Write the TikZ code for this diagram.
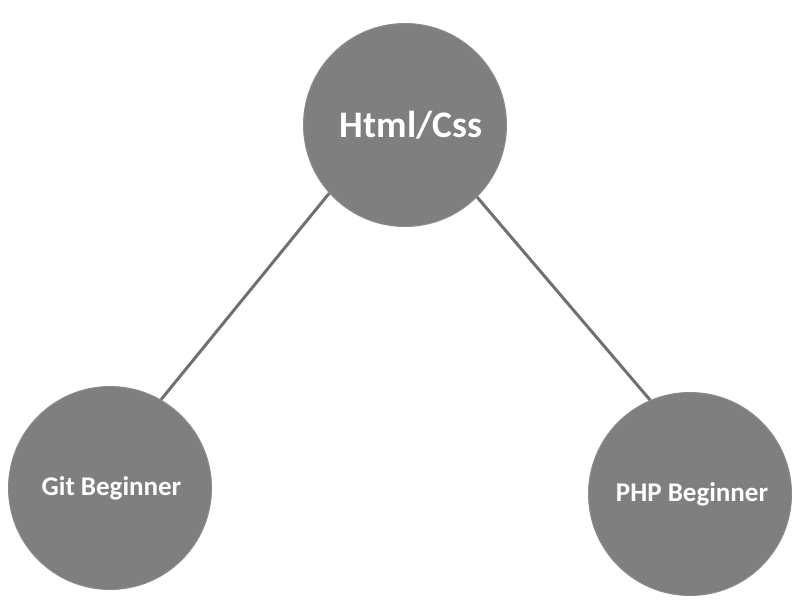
\documentclass[tikz,border=0pt]{standalone}
\usepackage{fontspec}
\setmainfont{Carlito}
\definecolor{ballfill}{HTML}{7F7F7F}
\definecolor{balledge}{HTML}{8C8C8C}
\definecolor{linkgray}{HTML}{707070}
\tikzset{
    skill/.style={circle, draw=balledge, line width=1pt, fill=ballfill, minimum size=203pt, inner sep=0pt, text=white, font=\bfseries},
    link/.style={linkgray, line width=3pt}
}
\begin{document}
\begin{tikzpicture}[x=1pt,y=-1pt]
        \useasboundingbox (0,0) rectangle (800,600);

        \node[skill, font=\bfseries\fontsize{37.5}{40}\selectfont] (html) at (405, 125) {\hspace{12pt}Html/Css};
        \node[skill, font=\bfseries\fontsize{27}{29}\selectfont] (git) at (110, 488) {\hspace{3pt}Git Beginner};
        \node[skill, font=\bfseries\fontsize{27}{29}\selectfont] (php) at (690, 494) {\hspace{4pt}PHP Beginner};

        \draw[link] (html.-138.6) -- (git.60);
        \draw[link] (html.-45.4) -- (php.113.7);

    \end{tikzpicture}
\end{document}
